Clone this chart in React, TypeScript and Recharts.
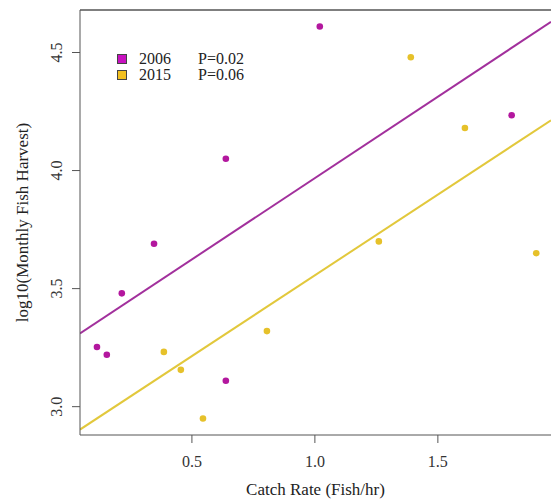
import { ScatterChart, Scatter, XAxis, YAxis, ReferenceLine } from 'recharts'

// catch rate (fish/hr) vs log10 monthly harvest
const x2006 = [0.114, 0.154, 0.215, 0.346, 0.638, 0.638, 1.02, 1.8]
const y2006 = [3.253, 3.22, 3.48, 3.69, 4.05, 3.11, 4.61, 4.234]
const x2015 = [0.386, 0.455, 0.545, 0.805, 1.26, 1.39, 1.61, 1.9]
const y2015 = [3.232, 3.156, 2.95, 3.32, 3.7, 4.48, 4.18, 3.65]

// fitted line endpoints
const fit2006 = [{ x: 0.045, y: 3.31 }, { x: 1.96, y: 4.63 }]
const fit2015 = [{ x: 0.045, y: 2.903 }, { x: 1.96, y: 4.213 }]

const pValues = ['P=0.02', 'P=0.06']
const seriesNames = ['2006', '2015']
const xTicks = [0.5, 1.0, 1.5]
const yTicks = [3.0, 3.5, 4.0, 4.5]

const X_DOMAIN: [number, number] = [0.045, 1.96]
const Y_DOMAIN: [number, number] = [2.88, 4.68]

const FONT = '"Liberation Serif", "Times New Roman", serif'
const AXIS = '#555555'
const MAGENTA = '#b3179e'
const YELLOW = '#e6c12a'
const LINE_MAGENTA = '#a2309c'
const LINE_YELLOW = '#e2c83c'
const SWATCH = ['#c812c0', '#f2c020']

const toPoints = (xs: number[], ys: number[]) => xs.map((x, i) => ({ x, y: ys[i] }))
const data2006 = toPoints(x2006, y2006)
const data2015 = toPoints(x2015, y2015)

const Dot = (color: string) => (props: any) => (
  <circle cx={props.cx} cy={props.cy} r={3.3} fill={color} />
)

const XTick = ({ x, y, payload }: any) => (
  <text x={x} y={y + 22} textAnchor="middle" fontFamily={FONT} fontSize={16} fill="#333">
    {payload.value.toFixed(1)}
  </text>
)

const YTick = ({ y, payload }: any) => (
  <text
    x={57}
    y={y}
    textAnchor="middle"
    fontFamily={FONT}
    fontSize={16}
    fill="#333"
    transform={`rotate(-90, 57, ${y})`}
    dy={5}
  >
    {payload.value.toFixed(1)}
  </text>
)

const LegendBox = () => (
  <div
    style={{
      position: 'absolute',
      left: 117,
      top: 51,
      fontFamily: FONT,
      fontSize: 16,
      color: '#222',
      lineHeight: '16px',
    }}
  >
    {seriesNames.map((name, i) => (
      <div key={name} style={{ display: 'flex', alignItems: 'center', height: 16 }}>
        <span
          style={{
            width: 8,
            height: 8,
            background: SWATCH[i],
            border: '1px solid #444',
            display: 'inline-block',
            marginRight: 12,
          }}
        />
        <span style={{ width: 59 }}>{name}</span>
        <span>{pValues[i]}</span>
      </div>
    ))}
  </div>
)

export default function App() {
  return (
    <div style={{ position: 'absolute', left: 0, top: 0, width: 551, height: 501, background: '#fff' }}>
      <ScatterChart width={551} height={501} margin={{ top: 10, right: 0, left: 0, bottom: 0 }}>
        <XAxis
          type="number"
          dataKey="x"
          domain={X_DOMAIN}
          allowDataOverflow
          ticks={xTicks}
          height={66}
          tickSize={8}
          stroke={AXIS}
          tickLine={{ stroke: AXIS }}
          tick={<XTick />}
          label={{ value: 'Catch Rate (Fish/hr)', position: 'insideBottom', offset: 6, fontFamily: FONT, fontSize: 17, fill: '#222' }}
        />
        <YAxis
          type="number"
          dataKey="y"
          domain={Y_DOMAIN}
          allowDataOverflow
          ticks={yTicks}
          width={80}
          tickSize={8}
          stroke={AXIS}
          tickLine={{ stroke: AXIS }}
          tick={<YTick />}
          label={{
            value: 'log10(Monthly Fish Harvest)',
            angle: -90,
            position: 'insideLeft',
            offset: 22,
            style: { textAnchor: 'middle' },
            fontFamily: FONT,
            fontSize: 17,
            fill: '#222',
          }}
        />
        <ReferenceLine y={Y_DOMAIN[1]} stroke={AXIS} strokeWidth={1.5} />
        <ReferenceLine segment={fit2006} stroke={LINE_MAGENTA} strokeWidth={2} ifOverflow="hidden" />
        <ReferenceLine segment={fit2015} stroke={LINE_YELLOW} strokeWidth={2} ifOverflow="hidden" />
        <Scatter name="2006" data={data2006} fill={MAGENTA} shape={Dot(MAGENTA)} isAnimationActive={false} />
        <Scatter name="2015" data={data2015} fill={YELLOW} shape={Dot(YELLOW)} isAnimationActive={false} />
      </ScatterChart>
      <LegendBox />
    </div>
  )
}
